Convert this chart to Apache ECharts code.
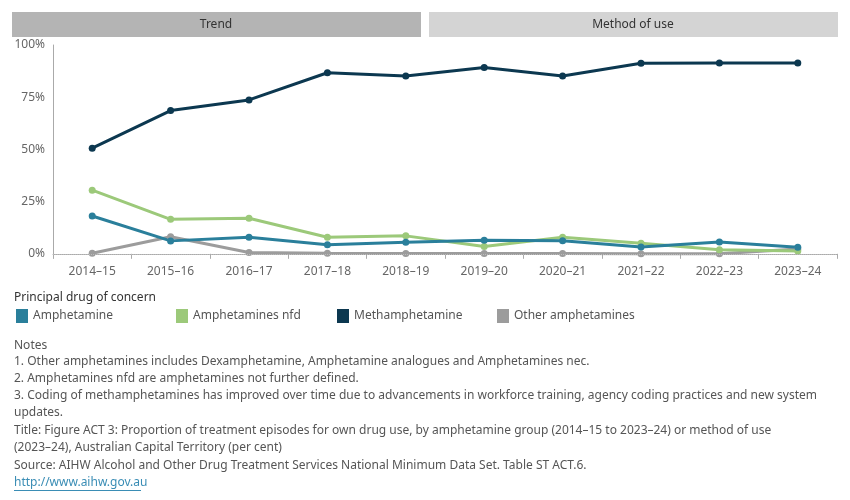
<!DOCTYPE html>
<html>
<head>
<meta charset="utf-8">
<title>Figure ACT 3</title>
<script src="https://cdn.jsdelivr.net/npm/echarts@6.0.0/dist/echarts.min.js"></script>
<style>
  html, body { margin: 0; padding: 0; background: #fff; }
  #chart { width: 850px; height: 500px; }
</style>
</head>
<body>
<div id="chart"></div>
<script>
var years = ["2014–15", "2015–16", "2016–17", "2017–18", "2018–19", "2019–20", "2020–21", "2021–22", "2022–23", "2023–24"];
var amphetamine = [18.1, 6.2, 7.9, 4.4, 5.6, 6.5, 6.3, 3.3, 5.7, 3.2];
var amphetaminesNfd = [30.5, 16.5, 17.0, 7.9, 8.6, 3.5, 7.9, 5.1, 1.9, 1.4];
var methamphetamine = [50.6, 68.6, 73.7, 86.7, 85.1, 89.2, 85.2, 91.3, 91.4, 91.4];
var otherAmphetamines = [0.3, 8.2, 0.6, 0.3, 0.1, 0.1, 0.1, 0.0, 0.0, 2.3];
var yTicks = [0, 25, 50, 75, 100];
var drugs = ["Amphetamine", "Amphetamines nfd", "Methamphetamine", "Other amphetamines"];

var notes = [
  "Notes",
  "1. Other amphetamines includes Dexamphetamine, Amphetamine analogues and Amphetamines nec.",
  "2. Amphetamines nfd are amphetamines not further defined.",
  "3. Coding of methamphetamines has improved over time due to advancements in workforce training, agency coding practices and new system",
  "updates.",
  "Title: Figure ACT 3: Proportion of treatment episodes for own drug use, by amphetamine group (2014–15 to 2023–24) or method of use",
  "(2023–24), Australian Capital Territory (per cent)",
  "Source: AIHW Alcohol and Other Drug Treatment Services National Minimum Data Set. Table ST ACT.6."
];

var font = "'Noto Sans', sans-serif";

function line(name, data, color) {
  return {
    name: name,
    type: "line",
    data: data,
    symbol: "circle",
    symbolSize: 7,
    lineStyle: { width: 3, color: color },
    itemStyle: { color: color },
    emphasis: { disabled: true }
  };
}

var graphics = [
  { type: "rect", shape: { x: 12, y: 12, width: 409, height: 25 }, style: { fill: "#b4b4b4" } },
  { type: "text", x: 216, y: 25, style: { text: "Trend", fill: "#333", font: "12px " + font, align: "center", verticalAlign: "middle" } },
  { type: "rect", shape: { x: 429, y: 12, width: 409, height: 25 }, style: { fill: "#d4d4d4" } },
  { type: "text", x: 633, y: 25, style: { text: "Method of use", fill: "#333", font: "12px " + font, align: "center", verticalAlign: "middle" } },
  { type: "text", x: 14, y: 298, style: { text: "Principal drug of concern", fill: "#333", font: "12px " + font, verticalAlign: "middle" } }
];
var noteY = [346, 362, 379, 396, 413, 431, 448, 466];
notes.forEach(function (t, i) {
  graphics.push({ type: "text", x: 14, y: noteY[i], style: { text: t, fill: "#555", font: "12px " + font, verticalAlign: "middle" } });
});
graphics.push({ type: "text", x: 14, y: 483, style: { text: "http://www.aihw.gov.au", fill: "#3a8db5", font: "12px " + font, verticalAlign: "middle" } });
graphics.push({ type: "rect", shape: { x: 14, y: 490, width: 127, height: 1 }, style: { fill: "#3a8db5" } });

var legendX = [16, 176, 337, 497];
var legends = drugs.map(function (d, i) {
  return {
    left: legendX[i],
    top: 309,
    padding: 0,
    icon: "rect",
    itemWidth: 12,
    itemHeight: 14,
    itemGap: 0,
    selectedMode: false,
    textStyle: { color: "#555", fontSize: 12, fontFamily: font },
    data: [d]
  };
});

var chart = echarts.init(document.getElementById("chart"));
chart.setOption({
  animation: false,
  grid: { left: 53, right: 13, top: 45, bottom: 242 },
  legend: legends,
  xAxis: {
    type: "category",
    data: years,
    boundaryGap: true,
    axisLine: { lineStyle: { color: "#aaa" } },
    axisTick: { show: true, length: 5, lineStyle: { color: "#aaa" } },
    axisLabel: { color: "#666", fontSize: 12, fontFamily: font, margin: 8 }
  },
  yAxis: {
    type: "value",
    min: -2,
    max: 100,
    splitLine: { show: false },
    axisLine: { show: true, lineStyle: { color: "#aaa" } },
    axisTick: { show: false },
    axisLabel: {
      customValues: yTicks,
      color: "#666",
      fontSize: 12,
      fontFamily: font,
      formatter: function (v) { return v + "%"; }
    }
  },
  series: [
    Object.assign(line("Other amphetamines", otherAmphetamines, "#9c9c9c"), {
      markLine: {
        silent: true,
        symbol: "none",
        label: { show: false },
        lineStyle: { color: "#bbb", type: "dotted", width: 1 },
        data: [{ yAxis: 0 }]
      }
    }),
    line("Amphetamines nfd", amphetaminesNfd, "#9cc97a"),
    line("Amphetamine", amphetamine, "#2a7f9b"),
    line("Methamphetamine", methamphetamine, "#0c3850")
  ],
  graphic: graphics
});
</script>
</body>
</html>
